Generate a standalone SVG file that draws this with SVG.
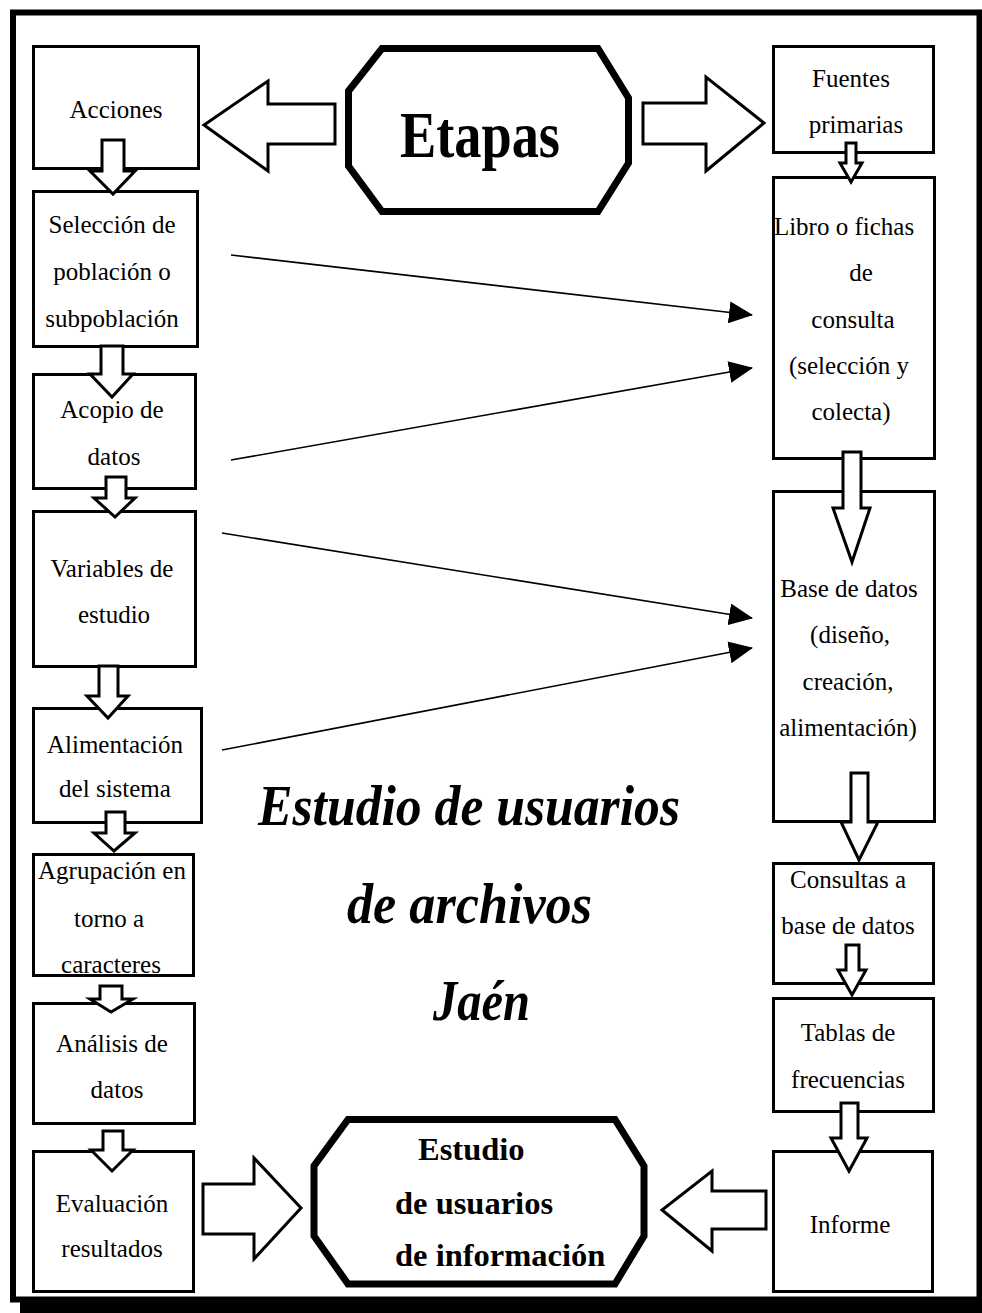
<svg xmlns="http://www.w3.org/2000/svg" width="982" height="1313" viewBox="0 0 982 1313">
<style>
.box{fill:#fff;stroke:#000;stroke-width:3}
.oct{fill:#fff;stroke:#000;stroke-width:7;stroke-linejoin:miter}
.blk{fill:#fff;stroke:#000;stroke-width:3;stroke-linejoin:miter}
.thin{stroke:#000;stroke-width:1.6;fill:none}
.t{font-family:"Liberation Serif","Times New Roman",serif;font-size:25px;fill:#000;text-anchor:middle}
.tb{font-family:"Liberation Serif","Times New Roman",serif;font-weight:bold;fill:#000}
.ti{font-family:"Liberation Serif","Times New Roman",serif;font-weight:bold;font-style:italic;font-size:56px;fill:#000}
</style>
<defs>
<marker id="ah" markerUnits="userSpaceOnUse" markerWidth="24" markerHeight="22" refX="23" refY="11" orient="auto">
<path d="M0,0 L24,11 L0,22 z" fill="#000"/>
</marker>
</defs>
<rect x="0" y="0" width="982" height="1313" fill="#fff"/>
<g id="frame">
<rect x="20" y="20" width="962" height="1293" fill="#000"/>
<rect x="13" y="12.5" width="966.5" height="1287" fill="#fff" stroke="#000" stroke-width="6"/>
</g>
<g id="etapas">
<polygon class="oct" points="382,48.5 598,48.5 628.5,98 628.5,163 598,211.5 382,211.5 348.5,166 348.5,91"/>
<text class="tb" x="480" y="157" font-size="66" text-anchor="middle" textLength="160" lengthAdjust="spacingAndGlyphs">Etapas</text>
</g>
<g id="acciones"><rect class="box" x="33.5" y="46.5" width="165" height="122"/><text class="t" x="116" y="118">Acciones</text></g>
<g id="seleccion"><rect class="box" x="33.5" y="191.5" width="164" height="155"/>
<text class="t" x="112" y="233">Selección de</text><text class="t" x="112" y="280">población o</text><text class="t" x="112" y="327">subpoblación</text></g>
<g id="acopio"><rect class="box" x="33.5" y="374.5" width="162" height="114"/>
<text class="t" x="112" y="418">Acopio de</text><text class="t" x="114" y="465">datos</text></g>
<g id="variables"><rect class="box" x="33.5" y="511.5" width="162" height="155"/>
<text class="t" x="112" y="577">Variables de</text><text class="t" x="114" y="623">estudio</text></g>
<g id="alimentacion"><rect class="box" x="33.5" y="708.5" width="168" height="114"/>
<text class="t" x="115" y="753">Alimentación</text><text class="t" x="115" y="797">del sistema</text></g>
<g id="agrupacion"><rect class="box" x="33.5" y="854.5" width="160" height="121"/>
<text class="t" x="112" y="879">Agrupación en</text><text class="t" x="109" y="927">torno a</text><text class="t" x="111" y="973">caracteres</text></g>
<g id="analisis"><rect class="box" x="33.5" y="1003.5" width="161" height="120"/>
<text class="t" x="112" y="1052">Análisis de</text><text class="t" x="117" y="1098">datos</text></g>
<g id="evaluacion"><rect class="box" x="33.5" y="1151.5" width="160" height="140"/>
<text class="t" x="112" y="1212">Evaluación</text><text class="t" x="112" y="1257">resultados</text></g>
<g id="fuentes"><rect class="box" x="773.5" y="46.5" width="160" height="106"/>
<text class="t" x="851" y="87">Fuentes</text><text class="t" x="856" y="133">primarias</text></g>
<g id="libro"><rect class="box" x="773.5" y="177.5" width="161" height="281"/>
<text class="t" x="844" y="235">Libro o fichas</text><text class="t" x="861" y="281">de</text><text class="t" x="853" y="328">consulta</text><text class="t" x="849" y="374">(selección y</text><text class="t" x="851" y="420">colecta)</text></g>
<g id="basedatos"><rect class="box" x="773.5" y="491.5" width="161" height="330"/>
<text class="t" x="849" y="597">Base de datos</text><text class="t" x="850" y="643">(diseño,</text><text class="t" x="848" y="690">creación,</text><text class="t" x="848" y="736">alimentación)</text></g>
<g id="consultas"><rect class="box" x="773.5" y="863.5" width="160" height="120"/>
<text class="t" x="848" y="888">Consultas a</text><text class="t" x="848" y="934">base de datos</text></g>
<g id="tablas"><rect class="box" x="773.5" y="998.5" width="160" height="113"/>
<text class="t" x="848" y="1041">Tablas de</text><text class="t" x="848" y="1088">frecuencias</text></g>
<g id="informe"><rect class="box" x="773.5" y="1151.5" width="159" height="140"/>
<text class="t" x="850" y="1233">Informe</text></g>
<g id="estudio-info">
<polygon class="oct" points="348,1119.5 615,1119.5 644,1166 644,1236 615,1284 348,1284 314,1236 314,1166" stroke-width="8"/>
<text class="tb" x="418" y="1160" font-size="32.5">Estudio</text>
<text class="tb" x="395" y="1214" font-size="32.5">de usuarios</text>
<text class="tb" x="395" y="1266" font-size="32.5">de información</text>
</g>
<g id="titulo">
<text class="ti" x="258" y="825" textLength="422" lengthAdjust="spacingAndGlyphs">Estudio de usuarios</text>
<text class="ti" x="347" y="923" textLength="245" lengthAdjust="spacingAndGlyphs">de archivos</text>
<text class="ti" x="433" y="1020" textLength="97" lengthAdjust="spacingAndGlyphs">Jaén</text>
</g>
<g id="connectors">
<polygon class="blk" points="335,104 268,104 268,81 204,125 268,171 268,144 335,144"/>
<polygon class="blk" points="643,103 706,103 706,77 764,123 706,171 706,144 643,144"/>
<polygon class="blk" points="203,1184 254,1184 254,1158 301,1208 254,1259 254,1234 203,1234"/>
<polygon class="blk" points="766,1191 712,1191 712,1171 662,1210 712,1251 712,1229 766,1229"/>
<polygon class="blk" points="102,140 124,140 124,171 135,171 113,194 90,171 102,171"/>
<polygon class="blk" points="101,346 123,346 123,374 133,374 112,397 90,374 101,374"/>
<polygon class="blk" points="106,477 126,477 126,498 135,498 115,517 94,498 106,498"/>
<polygon class="blk" points="99,666 118,666 118,696 128,696 108,718 87,696 99,696"/>
<polygon class="blk" points="106,812 125,812 125,833 135,833 114,851 94,833 106,833"/>
<polygon class="blk" points="100,986 122,986 122,999 133,999 111,1012 90,999 100,999"/>
<polygon class="blk" points="103,1131 123,1131 123,1150 133,1150 112,1171 91,1150 103,1150"/>
<polygon class="blk" points="846,143 856,143 856,163 862,163 851,182 840,163 846,163"/>
<polygon class="blk" points="843,452 861,452 861,508 870,508 852,562 833,508 843,508"/>
<polygon class="blk" points="851,773 868,773 868,822 878,822 859,860 841,822 851,822"/>
<polygon class="blk" points="846,945 859,945 859,970 866,970 852,995 838,970 846,970"/>
<polygon class="blk" points="841,1103 858,1103 858,1138 867,1138 849,1171 831,1138 841,1138"/>
<line class="thin" x1="231" y1="255" x2="752" y2="315" marker-end="url(#ah)"/>
<line class="thin" x1="231" y1="460" x2="752" y2="368" marker-end="url(#ah)"/>
<line class="thin" x1="222" y1="533" x2="752" y2="618" marker-end="url(#ah)"/>
<line class="thin" x1="222" y1="750" x2="752" y2="648" marker-end="url(#ah)"/>
</g>
</svg>
